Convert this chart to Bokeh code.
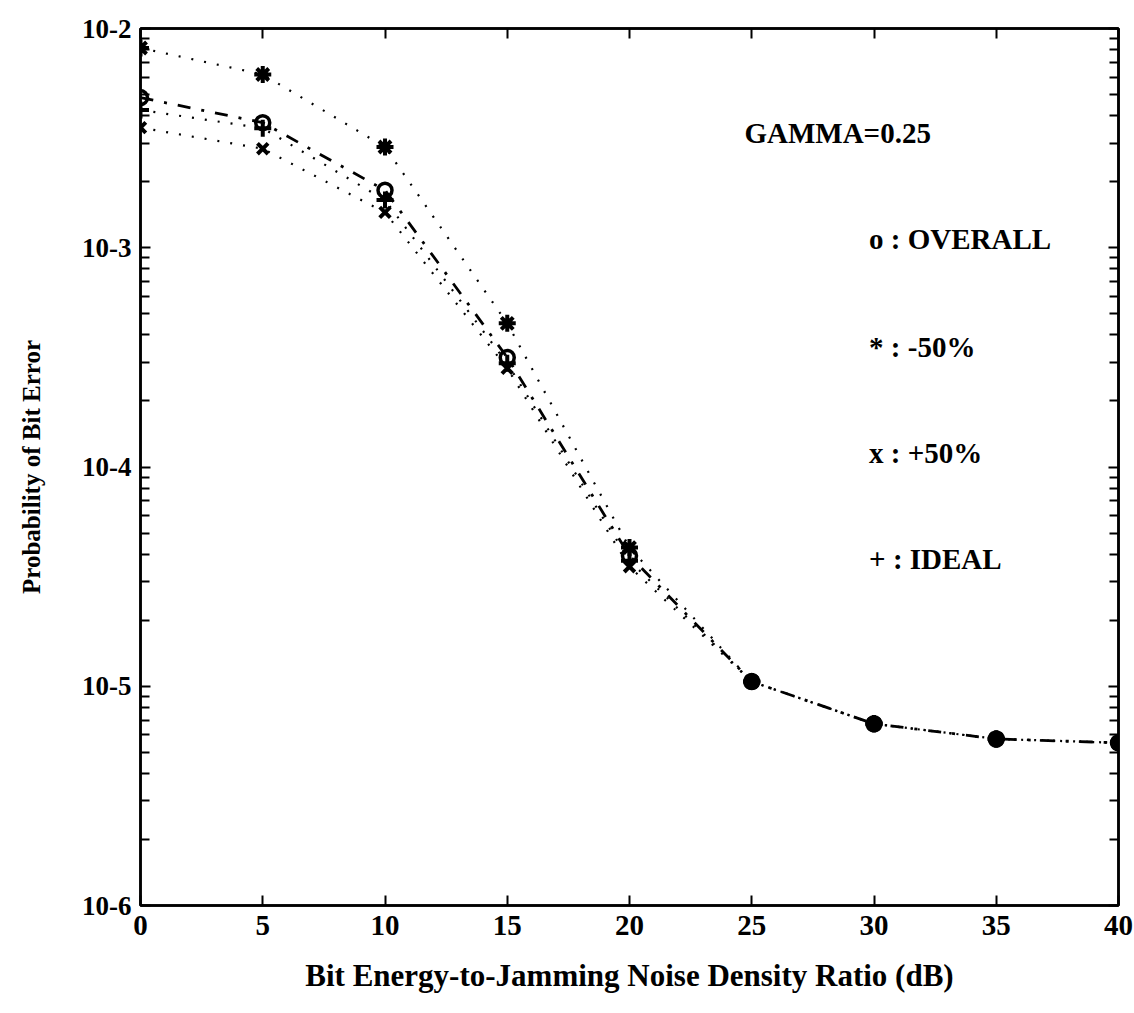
from bokeh.plotting import figure
from bokeh.models import (Range1d, FixedTicker, LinearAxis, LogAxis,
                          CustomJSTickFormatter, ColumnDataSource, Label)
from bokeh.embed import file_html
from bokeh.resources import INLINE

# Eb/NJ in dB and bit error probabilities for each case
snr_db = [0, 5, 10, 15, 20, 25, 30, 35, 40]
pb_overall = [4.84e-3, 3.72e-3, 1.83e-3, 3.16e-4, 3.94e-5, 1.05e-5, 6.74e-6, 5.75e-6, 5.52e-6]
pb_minus50 = [8.15e-3, 6.17e-3, 2.88e-3, 4.52e-4, 4.29e-5, 1.05e-5, 6.74e-6, 5.75e-6, 5.52e-6]
pb_plus50 = [3.53e-3, 2.83e-3, 1.45e-3, 2.82e-4, 3.51e-5, 1.05e-5, 6.74e-6, 5.75e-6, 5.52e-6]
pb_ideal = [4.25e-3, 3.51e-3, 1.65e-3, 2.97e-4, 3.74e-5, 1.05e-5, 6.74e-6, 5.75e-6, 5.52e-6]

x_ticks = [0, 5, 10, 15, 20, 25, 30, 35, 40]
decades = [-6, -5, -4, -3, -2]

FONT = "Liberation Serif"
INK = "black"

src = ColumnDataSource(dict(x=snr_db, overall=pb_overall, m50=pb_minus50,
                            p50=pb_plus50, ideal=pb_ideal))

p = figure(width=1134, height=1013,
           x_range=Range1d(0, 40), y_range=Range1d(1e-6, 1e-2),
           y_axis_type="log", output_backend="svg", toolbar_location=None,
           min_border_left=140, min_border_right=16,
           min_border_top=28, min_border_bottom=108)
p.background_fill_color = "white"
p.border_fill_color = "white"
p.outline_line_color = INK
p.outline_line_width = 2.5
p.xgrid.visible = False
p.ygrid.visible = False

major_y = [10.0 ** d for d in decades]
minor_y = [k * 10.0 ** d for d in decades[:-1] for k in range(2, 10)]
y_ticker = FixedTicker(ticks=major_y, minor_ticks=minor_y)
x_ticker = FixedTicker(ticks=x_ticks, minor_ticks=[])
pow_fmt = CustomJSTickFormatter(code='return "10" + Math.round(Math.log10(tick));')
blank_fmt = CustomJSTickFormatter(code='return "";')


def style_axis(ax):
    ax.axis_line_color = INK
    ax.axis_line_width = 2.5
    ax.major_tick_line_color = INK
    ax.major_tick_line_width = 2
    ax.minor_tick_line_color = INK
    ax.minor_tick_line_width = 2
    ax.major_tick_in = 10
    ax.major_tick_out = 0
    ax.minor_tick_in = 9
    ax.minor_tick_out = 0
    ax.major_label_text_font = FONT
    ax.major_label_text_font_style = "bold"
    ax.major_label_text_color = INK
    ax.axis_label_text_font = FONT
    ax.axis_label_text_font_style = "bold"
    ax.axis_label_text_color = INK


# left (log) axis
ly = p.yaxis[0]
ly.ticker = y_ticker
ly.formatter = pow_fmt
style_axis(ly)
ly.major_label_text_font_size = "27px"
ly.major_label_standoff = 9
ly.axis_label = "Probability of Bit Error"
ly.axis_label_text_font_size = "25px"
ly.axis_label_standoff = 34

# bottom axis
bx = p.xaxis[0]
bx.ticker = x_ticker
style_axis(bx)
bx.major_label_text_font_size = "29px"
bx.major_label_standoff = 10
bx.axis_label = "Bit Energy-to-Jamming Noise Density Ratio (dB)"
bx.axis_label_text_font_size = "31px"
bx.axis_label_standoff = 20

# mirrored axes on the right and top, ticks only
ry = LogAxis(ticker=y_ticker, formatter=blank_fmt, major_label_standoff=0)
style_axis(ry)
p.add_layout(ry, "right")
tx = LinearAxis(ticker=x_ticker, formatter=blank_fmt, major_label_standoff=0)
style_axis(tx)
p.add_layout(tx, "above")

# curves
p.line("x", "m50", source=src, line_color=INK, line_width=2.2, line_dash="2 11")
p.line("x", "p50", source=src, line_color=INK, line_width=2.2, line_dash="2 11")
p.line("x", "ideal", source=src, line_color=INK, line_width=2.2, line_dash="2 11")
p.line("x", "overall", source=src, line_color=INK, line_width=2.8, line_dash="13 11 3 11")

# markers
p.scatter("x", "overall", source=src, marker="circle", size=14,
          fill_color=None, line_color=INK, line_width=3.5)
p.scatter("x", "m50", source=src, marker="asterisk", size=17,
          line_color=INK, line_width=4)
p.scatter("x", "p50", source=src, marker="x", size=15,
          line_color=INK, line_width=4)
p.scatter("x", "ideal", source=src, marker="cross", size=17,
          line_color=INK, line_width=4)

# annotations
notes = [
    (24.7, 3.33e-3, "GAMMA=0.25"),
    (29.8, 1.10e-3, "o : OVERALL"),
    (29.8, 3.51e-4, "* : -50%"),
    (29.8, 1.16e-4, "x : +50%"),
    (29.8, 3.82e-5, "+ : IDEAL"),
]
for nx, ny, txt in notes:
    p.add_layout(Label(x=nx, y=ny, text=txt, text_font=FONT,
                       text_font_size="29px", text_font_style="bold",
                       text_color=INK, text_baseline="middle",
                       text_align="left"))

open("out.html", "w").write(file_html(p, INLINE))
